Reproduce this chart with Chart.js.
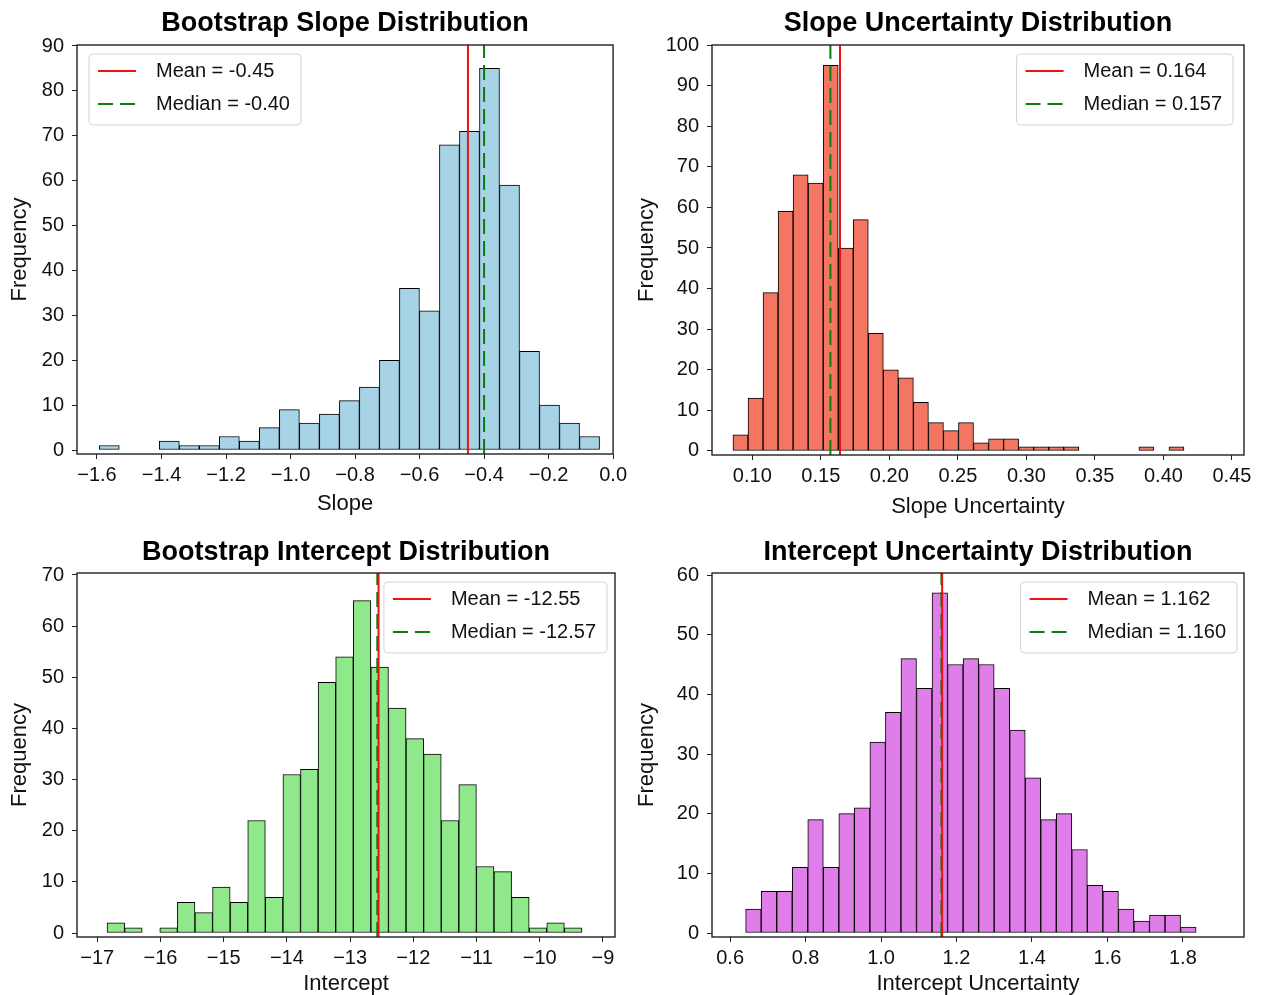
<!DOCTYPE html>
<html>
<head>
<meta charset="utf-8">
<title>Bootstrap distributions</title>
<script src="https://cdn.jsdelivr.net/npm/chart.js@4.4.1/dist/chart.umd.min.js"></script>
<style>
  html, body { margin: 0; padding: 0; background: #fff; overflow: hidden; }
  #wrap { position: relative; width: 1262px; height: 995px; }
  canvas { position: absolute; }
</style>
</head>
<body>
<div id="wrap">
  <canvas id="slopeChart" width="631" height="525" style="left:0;top:0"></canvas>
  <canvas id="slopeUncChart" width="631" height="525" style="left:631px;top:0"></canvas>
  <canvas id="interceptChart" width="631" height="480" style="left:0;top:525px"></canvas>
  <canvas id="interceptUncChart" width="631" height="480" style="left:631px;top:525px"></canvas>
</div>
<script>
// histogram counts, bin range [first edge, last edge], tick values, summary stats
const slopeRange = [-1.593, -0.042];
const slopeCounts = [1, 0, 0, 2, 1, 1, 3, 2, 5, 9, 6, 8, 11, 14, 20, 36, 31, 68, 71, 85, 59, 22, 10, 6, 3];
const slopeXTicks = [-1.6, -1.4, -1.2, -1.0, -0.8, -0.6, -0.4, -0.2, 0.0];
const slopeYTicks = [0, 10, 20, 30, 40, 50, 60, 70, 80, 90];
const slopeMean = -0.45;
const slopeMedian = -0.40;

const slopeUncRange = [0.0859, 0.415];
const slopeUncCounts = [4, 13, 39, 59, 68, 66, 95, 50, 57, 29, 20, 18, 12, 7, 5, 7, 2, 3, 3, 1, 1, 1, 1, 0, 0, 0, 0, 1, 0, 1];
const slopeUncXTicks = [0.10, 0.15, 0.20, 0.25, 0.30, 0.35, 0.40, 0.45];
const slopeUncYTicks = [0, 10, 20, 30, 40, 50, 60, 70, 80, 90, 100];
const slopeUncMean = 0.164;
const slopeUncMedian = 0.157;

const interceptRange = [-16.845, -9.333];
const interceptCounts = [2, 1, 0, 1, 6, 4, 9, 6, 22, 7, 31, 32, 49, 54, 65, 52, 44, 38, 35, 22, 29, 13, 12, 7, 1, 2, 1];
const interceptXTicks = [-17, -16, -15, -14, -13, -12, -11, -10, -9];
const interceptYTicks = [0, 10, 20, 30, 40, 50, 60, 70];
const interceptMean = -12.55;
const interceptMedian = -12.57;

const interceptUncRange = [0.6, 1.835];
const interceptUncCounts = [0, 4, 7, 7, 11, 19, 11, 20, 21, 32, 37, 46, 41, 57, 45, 46, 45, 41, 34, 26, 19, 20, 14, 8, 7, 4, 2, 3, 3, 1];
const interceptUncXTicks = [0.6, 0.8, 1.0, 1.2, 1.4, 1.6, 1.8];
const interceptUncYTicks = [0, 10, 20, 30, 40, 50, 60];
const interceptUncMean = 1.162;
const interceptUncMedian = 1.160;

Chart.defaults.font.family = '"Liberation Sans", Arial, sans-serif';
Chart.defaults.color = '#111';

const FRAME = '#222';

// bar centres for equal-width bins
function histPoints(range, counts) {
  const w = (range[1] - range[0]) / counts.length;
  return counts.map((c, i) => ({ x: range[0] + w * (i + 0.5), y: c }));
}

const fmt = (v, d) => Number(v).toFixed(d).replace('-', '\u2212');

// boxed legend in a corner of the plot area
const statLegend = {
  id: 'statLegend',
  afterDraw(chart, args, opts) {
    const { ctx, chartArea } = chart;
    const items = chart.data.datasets.filter(d => d.type === 'line');
    ctx.save();
    ctx.font = '20px "Liberation Sans", Arial, sans-serif';
    const textW = Math.max(...items.map(d => ctx.measureText(d.label).width));
    const w = 66 + textW + 12, h = 71;
    const x0 = opts.side === 'left' ? chartArea.left + 12 : chartArea.right - opts.inset - w;
    const y0 = chartArea.top + 9;
    ctx.beginPath();
    ctx.roundRect(x0, y0, w, h, 4);
    ctx.fillStyle = 'rgba(255,255,255,0.85)';
    ctx.fill();
    ctx.strokeStyle = '#d4d4d4';
    ctx.lineWidth = 1;
    ctx.stroke();
    items.forEach((d, i) => {
      const y = y0 + 17 + i * 33;
      ctx.beginPath();
      ctx.setLineDash(d.borderDash || []);
      ctx.strokeStyle = d.borderColor;
      ctx.lineWidth = d.borderWidth;
      ctx.moveTo(x0 + 9, y);
      ctx.lineTo(x0 + 47, y);
      ctx.stroke();
      ctx.setLineDash([]);
      ctx.fillStyle = '#111';
      ctx.textBaseline = 'middle';
      ctx.fillText(d.label, x0 + 67, y);
    });
    ctx.restore();
  }
};

// four-sided axes box
const axesFrame = {
  id: 'axesFrame',
  afterDatasetsDraw(chart) {
    const { ctx, chartArea: a } = chart;
    ctx.save();
    ctx.strokeStyle = FRAME;
    ctx.lineWidth = 1.4;
    ctx.strokeRect(a.left, a.top, a.right - a.left, a.bottom - a.top);
    ctx.restore();
  }
};

function makePanel(id, p) {
  const vline = (x, label, color, dash) => ({
    type: 'line', label, order: 0,
    data: [{ x, y: p.yLim[0] }, { x, y: p.yLim[1] }],
    borderColor: color, borderWidth: 2, borderDash: dash,
    pointRadius: 0, fill: false
  });
  const tickGrid = { display: true, drawOnChartArea: false, drawTicks: true, tickLength: 5, tickColor: FRAME, offset: false };
  return new Chart(document.getElementById(id), {
    type: 'bar',
    data: {
      datasets: [
        {
          type: 'bar', order: 1,
          data: histPoints(p.range, p.counts),
          backgroundColor: p.color, borderColor: '#000', borderWidth: 1,
          borderSkipped: false, barPercentage: 1, categoryPercentage: 1, grouped: false
        },
        vline(p.mean, 'Mean = ' + p.mean.toFixed(p.statDigits), '#ee1111', []),
        vline(p.median, 'Median = ' + p.median.toFixed(p.statDigits), '#0a7d0a', [15, 7])
      ]
    },
    options: {
      responsive: false,
      animation: false,
      events: [],
      layout: { padding: { left: 0, right: p.padRight, top: 0, bottom: 0 } },
      plugins: {
        legend: { display: false },
        tooltip: { enabled: false },
        title: {
          display: true, text: p.title, fullSize: false, color: '#000',
          font: { size: 27, weight: 'bold' },
          padding: { top: p.titlePad[0], bottom: p.titlePad[1] }
        },
        statLegend: { side: p.legendSide, inset: p.legendInset }
      },
      scales: {
        x: {
          type: 'linear', min: p.xLim[0], max: p.xLim[1], offset: false,
          afterBuildTicks: ax => { ax.ticks = p.xTicks.map(v => ({ value: v })); },
          afterFit: s => { s.height = p.xHeight; },
          ticks: { autoSkip: false, maxRotation: 0, padding: 4, font: { size: 20 }, color: '#111',
                   callback: v => fmt(v, p.xDigits) },
          grid: tickGrid,
          border: { display: false },
          title: { display: true, text: p.xLabel, font: { size: 22 }, color: '#111',
                   padding: { top: 0, bottom: p.xTitlePad } }
        },
        y: {
          min: p.yLim[0], max: p.yLim[1],
          afterBuildTicks: ax => { ax.ticks = p.yTicks.map(v => ({ value: v })); },
          afterFit: s => { s.width = p.yWidth; },
          ticks: { autoSkip: false, padding: 8, font: { size: 20 }, color: '#111',
                   callback: v => fmt(v, 0) },
          grid: tickGrid,
          border: { display: false },
          title: { display: true, text: 'Frequency', font: { size: 22 }, color: '#111',
                   padding: { top: p.yTitlePad, bottom: 0 } }
        }
      }
    },
    plugins: [axesFrame, statLegend]
  });
}

makePanel('slopeChart', {
  title: 'Bootstrap Slope Distribution', xLabel: 'Slope',
  range: slopeRange, counts: slopeCounts, xTicks: slopeXTicks, yTicks: slopeYTicks,
  mean: slopeMean, median: slopeMedian, statDigits: 2,
  color: '#a7d3e6', xDigits: 1,
  xLim: [-1.662, 0.0], yLim: [-0.89, 90.22],
  padRight: 16, yWidth: 77, xHeight: 71, titlePad: [7.8, 4.8], xTitlePad: 7.8, yTitlePad: 6.8,
  legendSide: 'left', legendInset: 12
});

makePanel('slopeUncChart', {
  title: 'Slope Uncertainty Distribution', xLabel: 'Slope Uncertainty',
  range: slopeUncRange, counts: slopeUncCounts, xTicks: slopeUncXTicks, yTicks: slopeUncYTicks,
  mean: slopeUncMean, median: slopeUncMedian, statDigits: 3,
  color: '#f47561', xDigits: 2,
  xLim: [0.0706, 0.4588], yLim: [-0.99, 100],
  padRight: 18, yWidth: 81, xHeight: 70, titlePad: [7.8, 4.8], xTitlePad: 4.8, yTitlePad: 2.8,
  legendSide: 'right', legendInset: 11
});

makePanel('interceptChart', {
  title: 'Bootstrap Intercept Distribution', xLabel: 'Intercept',
  range: interceptRange, counts: interceptCounts, xTicks: interceptXTicks, yTicks: interceptYTicks,
  mean: interceptMean, median: interceptMedian, statDigits: 2,
  color: '#8fe98a', xDigits: 0,
  xLim: [-17.32, -8.81], yLim: [-0.78, 70.39],
  padRight: 16, yWidth: 77, xHeight: 68, titlePad: [11.8, 3.8], xTitlePad: 7.8, yTitlePad: 6.8,
  legendSide: 'right', legendInset: 8
});

makePanel('interceptUncChart', {
  title: 'Intercept Uncertainty Distribution', xLabel: 'Intercept Uncertainty',
  range: interceptUncRange, counts: interceptUncCounts, xTicks: interceptUncXTicks, yTicks: interceptUncYTicks,
  mean: interceptUncMean, median: interceptUncMedian, statDigits: 3,
  color: '#df7ee9', xDigits: 1,
  xLim: [0.552, 1.962], yLim: [-0.67, 60.34],
  padRight: 18, yWidth: 81, xHeight: 68, titlePad: [11.8, 3.8], xTitlePad: 7.8, yTitlePad: 2.8,
  legendSide: 'right', legendInset: 7
});
</script>
</body>
</html>
